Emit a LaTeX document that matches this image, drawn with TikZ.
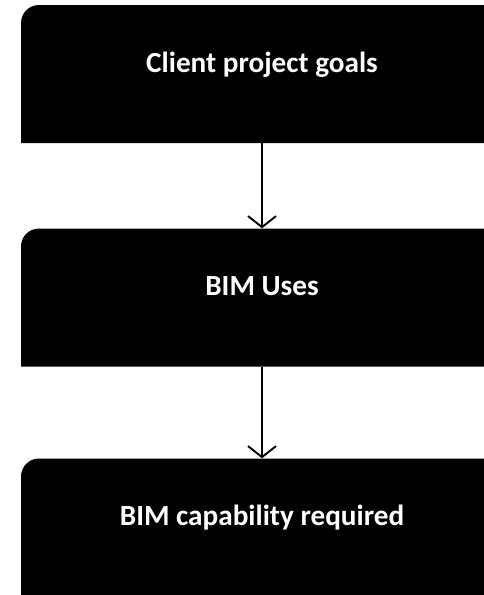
\documentclass[tikz,border=0pt]{standalone}
\usepackage{fontspec}
\setmainfont{Carlito}
\usetikzlibrary{arrows.meta}

\begin{document}
\begin{tikzpicture}[x=1pt, y=-1pt,
        box/.style={minimum width=482pt, minimum height=138pt, inner sep=0pt, text=white,
            font=\fontsize{29.2}{33}\selectfont\bfseries, text height=20pt, text depth=24pt,
            path picture={\fill[black] (path picture bounding box.south west)
                {[rounded corners=18pt] -- (path picture bounding box.north west)
                -- (path picture bounding box.north east)} -- (path picture bounding box.south east) -- cycle;}},
        flow/.style={line width=1.9pt, -{Straight Barb[length=11pt, width=28pt]}}]
        \useasboundingbox (0, 0) rectangle (483, 595);

        \node[box] (goals) at (262, 74) {Client project goals};
        \node[box] (uses) at (262, 297.5) {BIM Uses};
        \node[box] (capability) at (262, 527.5) {BIM capability required};

        \draw[flow] (goals) -- (uses);
        \draw[flow] (uses) -- (capability);

    \end{tikzpicture}
\end{document}
